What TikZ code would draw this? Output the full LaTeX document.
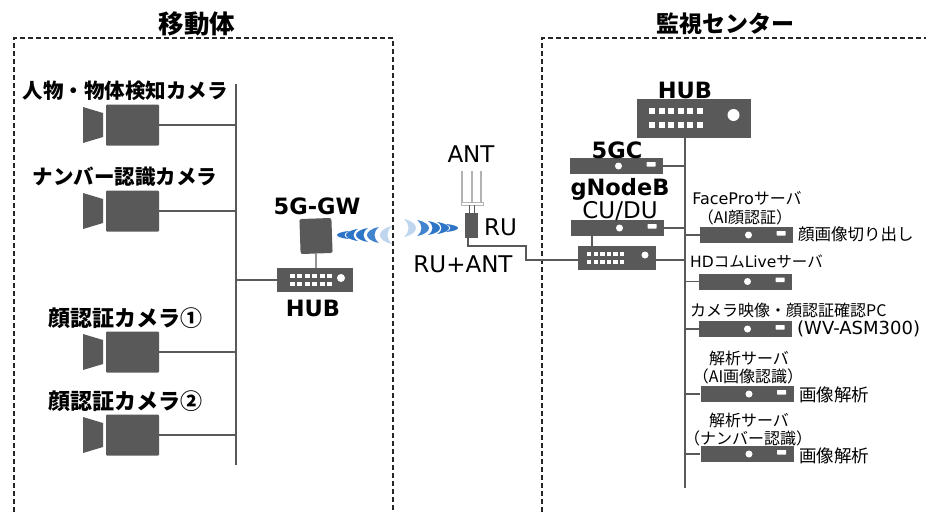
\documentclass[tikz,border=0pt]{standalone}
\usepackage{fontspec}
\setmainfont{DejaVu Sans}
\newfontfamily\jp{Noto Sans CJK JP}
\definecolor{devgray}{HTML}{595959}
\definecolor{wave}{HTML}{2E75C8}
\tikzset{
  frameline/.style={black!85,line width=2pt,dash pattern=on 5pt off 3pt},
  wire/.style={devgray,line width=1.3pt},
  busline/.style={devgray,line width=2pt},
  cambox/.style={fill=devgray,rounded corners=1pt,minimum width=53pt,minimum height=41pt,inner sep=0pt},
  srvbox/.style={fill=devgray,minimum width=93pt,minimum height=16pt,inner sep=0pt},
  hubbox/.style={fill=devgray,minimum width=76pt,minimum height=24pt,inner sep=0pt},
  titlelab/.style={font=\jp\bfseries\fontsize{25.5}{25.5}\selectfont,inner sep=0pt},
  camlab/.style={font=\jp\bfseries\fontsize{20.5}{20.5}\selectfont,inner sep=0pt},
  boldlab/.style={font=\bfseries\fontsize{22.5}{22.5}\selectfont,inner sep=0pt},
  netlab/.style={font=\fontsize{23}{23}\selectfont,inner sep=0pt},
  srvlab/.style={font=\jp\fontsize{16}{16}\selectfont,inner sep=0pt},
  notelab/.style={font=\jp\fontsize{17.5}{17.5}\selectfont,inner sep=0pt,anchor=west},
}
\newcommand{\crescent}[4]{% tip x, centre y, height, opacity
  \fill[wave,opacity=#4] (#1,#2-#3) .. controls (#1-16,#2-#3*0.6) and (#1-16,#2+#3*0.6) .. (#1,#2+#3)
    .. controls (#1-6,#2+#3*0.4) and (#1-6,#2-#3*0.4) .. (#1,#2-#3);}
\begin{document}
\begin{tikzpicture}[x=1pt,y=-1pt]
\useasboundingbox (0,0) rectangle (926,512);
\draw[frameline] (14,512) -- (14,38) -- (393,38) -- (393,512);
\draw[frameline] (542,512) -- (542,38) -- (926,38);
\node[titlelab] (movertitle) at (197,24) {移動体};
\node[titlelab,font=\jp\bfseries\fontsize{23}{23}\selectfont] (centertitle) at (725,24) {監視センター};
% bus lines
\coordinate (busltop) at (236,84);
\coordinate (buslbot) at (236,465);
\coordinate (busrtop) at (685,138);
\coordinate (busrbot) at (685,488);
\draw[busline] (busltop) -- (buslbot);
\draw[busline] (busrtop) -- (busrbot);
% cameras
\foreach \n/\y/\lab in {cama/125/{人物・物体検知カメラ}, camb/211/{ナンバー認識カメラ}, camc/352/{\fontsize{22}{22}\selectfont 顔認証カメラ①}, camd/435/{\fontsize{22}{22}\selectfont 顔認証カメラ②}}{
  \node[cambox] (\n) at (132.5,\y) {};
  \fill[devgray] (83,\y-18) -- (103,\y-12) -- (103,\y+12) -- (83,\y+18) -- cycle;
  \draw[wire] (\n) -- (\n -| busltop);
  \node[camlab] (\n lab) at (125,\y-34) {\lab};
}
% hub on the vehicle
\node[hubbox] (hubl) at (315,280) {};
\foreach \a in {0,...,5}{\foreach \b in {-4,4}{\fill[white] (290+\a*7.4,280+\b-2.2) rectangle ++(5,4.4);}}
\fill[white] (341,278) circle (4pt);
\draw[wire] (hubl) -- (hubl -| busltop);
\node[boldlab] (hubllab) at (313,308) {HUB};
% gateway
\node[fill=devgray,rounded corners=2pt,minimum width=32pt,minimum height=35pt,inner sep=0pt,rotate=2] (gw) at (316,236) {};
\draw[wire] (gw) -- (gw |- hubl.north);
\node[boldlab] (gwlab) at (317,206) {5G-GW};
% radio waves
\foreach \x/\h/\o in {349/4/1,358/6/1,368/7/1,379/8/0.9,392/9/0.3}{\crescent{\x}{235}{\h}{\o}}
\begin{scope}[xshift=862pt,xscale=-1]
\foreach \x/\h/\o in {416/4/1,425/6/1,434/7/1,445/8/0.9,458/9/0.3}{\crescent{\x}{228}{\h}{\o}}
\end{scope}
% antenna with radio unit
\node[fill=devgray,minimum width=13pt,minimum height=25pt,inner sep=0pt] (ru) at (471.5,225.5) {};
\foreach \x in {462,472,481}{\draw[black!30,line width=1.6pt] (\x,171) -- (\x,202);}
\draw[black!30,line width=1pt] (461,202) rectangle (483,205);
\draw[devgray,line width=1pt] (469,205) -- (469,213) (474,205) -- (474,213);
\node[netlab] (antlab) at (471,154) {ANT};
\node[netlab,anchor=west] (rulab) at (484,227) {RU};
\node[netlab] (rantlab) at (463,264) {RU+ANT};
% hub below CU/DU
\node[hubbox,minimum width=78pt] (hubc) at (617,258) {};
\foreach \a in {0,...,5}{\foreach \b in {-4,4}{\fill[white] (587+\a*6.6,258+\b-1.8) rectangle ++(4.4,3.6);}}
\fill[white] (645,255) circle (3.5pt);
\coordinate (rubend) at (526,246);
\draw[wire] (ru.south -| 468,0) -- (468,246) -- (rubend) -- (526,260) -- (hubc.west |- 0,260);
\draw[wire] (hubc.east |- 0,260) -- (busrtop |- 0,260);
% main hub
\node[fill=devgray,minimum width=114pt,minimum height=39pt,inner sep=0pt] (hubm) at (694,118.5) {};
\foreach \a in {0,...,5}{\foreach \b in {-7,7}{\fill[white] (649+\a*9.5,118+\b-3.2) rectangle ++(6.4,6.4);}}
\fill[white] (733.5,115) circle (6pt);
\node[boldlab] (hubmlab) at (685,90) {HUB};
% servers
\foreach \n/\x/\y in {core/616.5/166,cudu/617.5/228,face/746.5/235,hdcom/745.5/281.5,campc/745.5/329,anaa/747/394,anab/747/454}{
  \node[srvbox] (\n) at (\x,\y) {};
  \fill[white] (\x+2,\y) circle (3.5pt);
  \fill[white,rounded corners=0.5pt] (\x+30,\y-4) rectangle ++(9,4.5);
  \draw[wire] (\n) -- (\n -| busrtop);
}
\draw[wire] (cudu.south -| 592,0) -- (hubc.north -| 592,0);
\node[boldlab] (corelab) at (617,150) {5GC};
\node[boldlab] (gnblab) at (620,189) {gNodeB};
\node[netlab] (cudulab) at (620,211) {CU/DU};
\node[srvlab] (facelab) at (747,198) {\fontspec{DejaVu Sans}FacePro{\jp サーバ}};
\node[srvlab] (facelabb) at (745,217) {（AI顔認証）};
\node[notelab,font=\jp\fontsize{16.5}{16.5}\selectfont] (facenote) at (798,234) {顔画像切り出し};
\node[srvlab,font=\jp\fontsize{15.5}{15.5}\selectfont,anchor=west] (hdcomlab) at (690,262) {\fontspec{DejaVu Sans}HD{\jp コム}Live{\jp サーバ}};
\node[srvlab,anchor=west] (campclab) at (690,310) {カメラ映像・顔認証確認PC};
\node[netlab,font=\fontsize{18}{18}\selectfont,anchor=west] (campcnote) at (797,329) {(WV-ASM300)};
\node[srvlab] (analab) at (749,358) {解析サーバ};
\node[srvlab] (analabb) at (748,376) {（AI画像認識）};
\node[notelab] (ananote) at (799,395) {画像解析};
\node[srvlab] (anblab) at (749,420) {解析サーバ};
\node[srvlab] (anblabb) at (748,438) {（ナンバー認識）};
\node[notelab] (anbnote) at (799,456) {画像解析};
\end{tikzpicture}
\end{document}
